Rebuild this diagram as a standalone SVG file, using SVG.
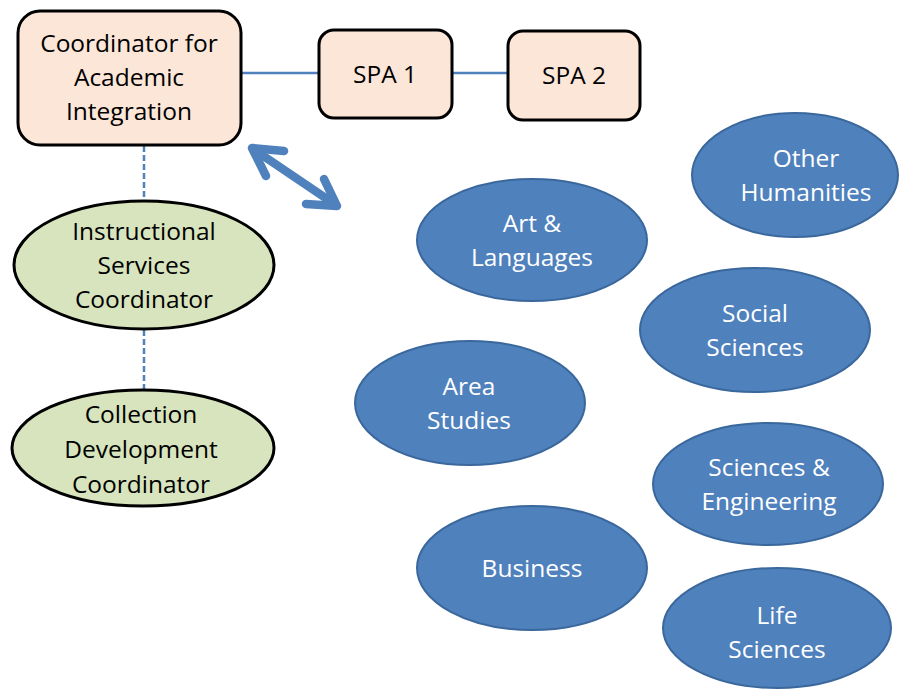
<svg xmlns="http://www.w3.org/2000/svg" width="909" height="690" viewBox="0 0 909 690">
<style>
.box{fill:#FCE6D8;stroke:#000;stroke-width:3}
.green{fill:#D7E4BD;stroke:#000;stroke-width:3}
.blue{fill:#4F81BD;stroke:#3A679C;stroke-width:2}
.t{font-family:"Open Sans","Liberation Sans",sans-serif;font-size:24.5px;text-anchor:middle;fill:#000}
.w{font-family:"Open Sans","Liberation Sans",sans-serif;font-size:24.5px;text-anchor:middle;fill:#fff}
.solid{stroke:#4F81BD;stroke-width:2.5;fill:none}
.dash{stroke:#4F81BD;stroke-width:2.5;fill:none;stroke-dasharray:6,3}
.arr{stroke:#4F81BD;stroke-width:8.5;fill:none;stroke-linecap:round;stroke-linejoin:round}
</style>
<rect width="909" height="690" fill="#fff"/>
<g id="connectors">
<line class="solid" x1="241" y1="73" x2="319" y2="73"/>
<line class="solid" x1="452" y1="73" x2="508" y2="73"/>
<line class="dash" x1="144" y1="146" x2="144" y2="200"/>
<line class="dash" x1="144" y1="330" x2="144" y2="390"/>
<line class="arr" x1="256" y1="151" x2="333" y2="203"/>
<polyline class="arr" points="284,151 252,148 266,176"/>
<polyline class="arr" points="306,204 337,206 324,179"/>
</g>
<g id="coordinator">
<rect class="box" x="18" y="11" width="223" height="134" rx="22"/>
<text class="t" x="129" y="52">Coordinator for</text>
<text class="t" x="129" y="86">Academic</text>
<text class="t" x="129" y="120">Integration</text>
</g>
<g id="spa1">
<rect class="box" x="319" y="30" width="133" height="88" rx="15"/>
<text class="t" x="385" y="83">SPA 1</text>
</g>
<g id="spa2">
<rect class="box" x="508" y="31" width="132" height="89" rx="15"/>
<text class="t" x="574" y="84">SPA 2</text>
</g>
<g id="instructional">
<ellipse class="green" cx="144" cy="265" rx="130" ry="64"/>
<text class="t" x="144" y="240">Instructional</text>
<text class="t" x="144" y="274">Services</text>
<text class="t" x="144" y="308">Coordinator</text>
</g>
<g id="collection">
<ellipse class="green" cx="143" cy="448" rx="131" ry="58"/>
<text class="t" x="141" y="423">Collection</text>
<text class="t" x="141" y="458">Development</text>
<text class="t" x="141" y="493">Coordinator</text>
</g>
<g id="other-humanities">
<ellipse class="blue" cx="795" cy="175" rx="103" ry="62"/>
<text class="w" x="806" y="167">Other</text>
<text class="w" x="806" y="201">Humanities</text>
</g>
<g id="art-languages">
<ellipse class="blue" cx="532" cy="240" rx="115" ry="61"/>
<text class="w" x="532" y="232">Art &amp;</text>
<text class="w" x="532" y="266">Languages</text>
</g>
<g id="social-sciences">
<ellipse class="blue" cx="755" cy="330" rx="115" ry="62"/>
<text class="w" x="755" y="322">Social</text>
<text class="w" x="755" y="356">Sciences</text>
</g>
<g id="area-studies">
<ellipse class="blue" cx="470" cy="403" rx="115" ry="62"/>
<text class="w" x="469" y="395">Area</text>
<text class="w" x="469" y="429">Studies</text>
</g>
<g id="sciences-engineering">
<ellipse class="blue" cx="768" cy="484" rx="115" ry="61"/>
<text class="w" x="769" y="476">Sciences &amp;</text>
<text class="w" x="769" y="510">Engineering</text>
</g>
<g id="business">
<ellipse class="blue" cx="532" cy="568" rx="115" ry="62"/>
<text class="w" x="532" y="577">Business</text>
</g>
<g id="life-sciences">
<ellipse class="blue" cx="777" cy="628" rx="114" ry="60"/>
<text class="w" x="777" y="624">Life</text>
<text class="w" x="777" y="658">Sciences</text>
</g>
</svg>
